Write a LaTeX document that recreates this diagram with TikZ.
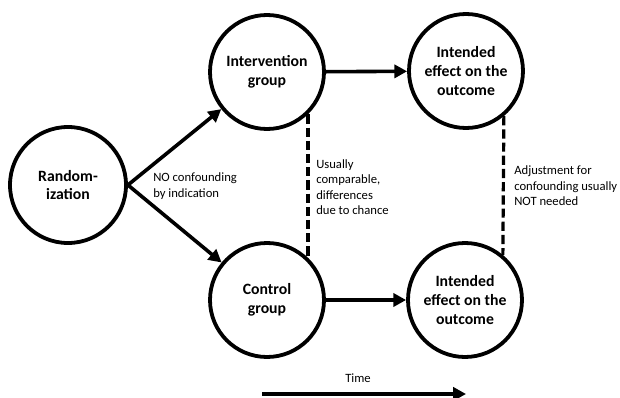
\documentclass[tikz,border=0pt]{standalone}
\usepackage{fontspec}
\setmainfont{Carlito}
\usetikzlibrary{arrows.meta}

\begin{document}
\begin{tikzpicture}[x=0.25mm,y=-0.25mm,
  stage/.style={draw,circle,line width=0.95mm,minimum size=28.5mm,inner sep=0pt,align=center,font=\fontsize{11.2}{13.2}\selectfont\bfseries},
  note/.style={anchor=west,align=left,inner sep=0pt,font=\fontsize{9}{11}\selectfont},
  flow/.style={line width=0.9mm,-{Triangle[length=3.2mm,width=3.3mm]}},
  link/.style={line width=0.8mm,dash pattern=on 2.3mm off 1mm}]
\useasboundingbox (0,0) rectangle (620,398);
% circles
\node[stage,minimum size=29mm] (rand) at (68,185) {Random-\\ization};
\node[stage] (int) at (267,72) {Intervention\\group};
\node[stage] (ctl) at (267,300) {Control\\group};
\node[stage] (effint) at (466,71) {Intended\\effect on the\\outcome};
\node[stage] (effctl) at (465,300) {Intended\\effect on the\\outcome};
% arrows
\draw[flow] (rand.east) -- (int);
\draw[flow] (rand.east) -- (ctl);
\draw[flow] (int) -- (effint);
\draw[flow] (ctl) -- (effctl);
% dashed links
\draw[link] (int.-46) -- (ctl.46);
\draw[link] (effint.-50) -- (effctl.50);
% notes
\node[note] (conf) at (153,186) {NO confounding\\by indication};
\node[note] (chance) at (316,187) {Usually\\comparable,\\differences\\due to chance};
\node[note] (adj) at (514,186) {Adjustment for\\confounding usually\\NOT needed};
% time
\node[font=\fontsize{9}{11}\selectfont] (time) at (358,378) {Time};
\coordinate (t0) at (262,394);
\coordinate (t1) at (466,394);
\draw[flow] (t0) -- (t1);
\end{tikzpicture}
\end{document}
